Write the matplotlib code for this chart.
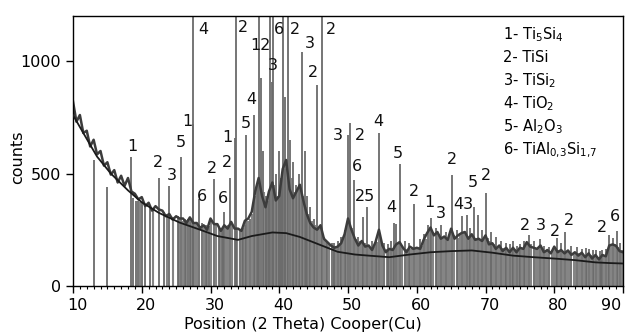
import numpy as np
import matplotlib
matplotlib.use('Agg')
import matplotlib.pyplot as plt
import matplotlib.transforms as mtransforms

scan_start, scan_end, scan_step = 10.0, 90.0, 0.5
scan_counts = [
    820, 730, 760, 680, 690, 620, 650, 585, 600, 535,
    550, 495, 515, 460, 490, 445, 480, 420, 410, 385,
    395, 355, 370, 335, 355, 340, 335, 310, 320, 295,
    310, 300, 300, 280, 305, 280, 280, 258, 270, 250,
    300, 275, 275, 245, 270, 255, 285, 255, 255, 245,
    290, 300, 330, 420, 480, 400, 350, 420, 460, 380,
    400, 520, 560, 430, 390, 420, 450, 380, 320, 280,
    260, 250, 270, 210, 195, 180, 170, 175, 190, 230,
    300, 250, 210, 180, 200, 175, 180, 160, 195, 250,
    180, 150, 165, 160, 185, 195, 170, 150, 175, 165,
    170, 165, 205, 235, 260, 225, 240, 210, 220, 205,
    255, 210, 225, 235, 240, 210, 230, 205, 210, 200,
    225, 185, 190, 165, 180, 155, 170, 150, 170, 150,
    170, 165, 195, 175, 170, 165, 180, 150, 160, 145,
    175, 150, 160, 145, 158, 138, 150, 135, 148, 128,
    145, 122, 138, 118, 138, 132, 180, 185, 178, 155,
    150]

# fitted background
bg_theta = [10, 11.5, 13.5, 15.5, 18, 20, 22.5, 25.5, 28.5, 31, 34, 36, 39, 41,
            43, 46, 48.5, 51, 53, 56, 59, 62, 65, 68, 71, 74, 77, 80, 83, 86, 88, 90]
bg_counts = [760, 680, 575, 500, 425, 372, 325, 282, 250, 222, 205, 222, 238, 235,
             218, 182, 152, 140, 135, 128, 140, 150, 155, 158, 148, 135, 128, 122,
             115, 105, 102, 100]

# peak list (position, height); 1400 = off scale
peak_pos = [13.1, 15.0, 18.4, 18.7, 19.2, 19.5, 20.0, 20.5, 21.2, 22.5, 23.2, 24.0,
            25.2, 25.7, 26.3, 26.7, 27.0, 27.4, 27.5, 28.3, 28.8, 29.3, 29.8, 30.5,
            31.2, 31.6, 32.0, 32.8, 33.5, 33.7, 34.3, 34.8, 35.2, 35.7, 36.3, 36.7,
            37.05, 37.35, 37.6, 38.0, 38.3, 38.65, 38.9, 39.1, 39.5, 40.0, 40.3,
            40.6, 40.9, 41.3, 41.6, 42.0, 42.4, 42.8, 43.3, 43.7, 44.1, 44.5, 45.0,
            45.5, 46.2, 47.0, 47.6, 48.0, 48.6, 49.0, 49.5, 50.0, 50.3, 50.9, 51.5,
            52.2, 52.8, 53.5, 54.0, 54.5, 55.3, 55.8, 56.3, 56.7, 57.0, 57.6, 58.3,
            58.8, 59.6, 60.5, 61.0, 61.6, 62.1, 62.8, 63.5, 64.3, 65.1, 65.8, 66.6,
            67.3, 67.8, 68.3, 68.9, 69.5, 70.1, 70.8, 71.5, 72.3, 73.0, 73.6, 74.0,
            74.6, 75.0, 75.6, 76.3, 77.0, 77.9, 78.5, 79.3, 80.4, 81.0, 81.6, 82.5,
            83.3, 84.0, 84.6, 85.0, 85.6, 86.0, 86.6, 87.0, 87.5, 88.0, 88.5, 89.1,
            89.6]
peak_h = [560, 440, 573, 390, 380, 380, 370, 360, 350, 480, 330, 444,
          310, 573, 300, 300, 300, 720, 1400, 387, 280, 270, 265, 475,
          260, 250, 330, 480, 657, 1400, 250, 260, 671, 300, 760, 450,
          1400, 925, 600, 400, 380, 1400, 907, 1400, 500, 600, 480,
          1400, 840, 1400, 650, 550, 450, 500, 1040, 600, 400, 350, 300,
          893, 1400, 200, 190, 190, 200, 220, 250, 671, 724, 471, 220,
          307, 351, 200, 210, 680, 190, 185, 200, 280, 276, 542, 200,
          190, 364, 210, 230, 270, 302, 260, 271, 240, 493, 250, 311,
          315, 260, 351, 315, 250, 413, 240, 220, 200, 190, 185, 200,
          180, 185, 200, 227, 200, 209, 180, 175, 213, 190, 240, 180,
          175, 165, 170, 165, 160, 160, 155, 160, 165, 227, 213, 244,
          190]

# weak reflections under the scan
weak_pos = [19.8, 21.6, 23.6, 24.6, 25.4,
            26.0, 26.5, 27.2, 27.8, 28.1, 29.0, 29.5, 30.0, 30.8, 31.4, 31.8, 32.3,
            32.6, 33.1, 33.9, 34.6, 35.0, 35.5, 36.0,
            36.5, 36.9, 37.8, 38.1, 38.5, 39.3, 39.7, 39.9, 40.1, 40.4, 40.8, 41.1,
            41.8, 42.2, 42.6, 43.0, 43.5, 43.9, 44.3, 44.7, 45.2, 45.8, 46.0, 46.5,
            46.8, 47.3, 47.9, 48.3, 48.8, 49.2, 49.7,
            50.6, 51.2, 51.8, 52.0, 52.5, 53.0, 53.2, 53.8, 54.2, 54.8, 55.0, 55.6,
            56.0, 56.5, 57.3, 57.9, 58.6, 59.0, 59.3, 59.9,
            60.2, 60.8, 61.3, 61.9, 62.4, 63.0, 63.2, 63.8, 64.0, 64.6, 64.8, 65.4,
            66.0, 66.3, 66.9, 67.0, 67.6, 68.0, 68.6, 69.2, 69.8,
            70.3, 70.6, 71.0, 71.2, 71.8, 72.0, 72.6, 72.8, 73.3, 73.8, 74.3, 74.8,
            75.3, 75.8, 76.0, 76.6, 77.3, 77.6, 78.2, 78.8, 79.0, 79.6, 79.9,
            80.2, 80.7, 81.3, 81.9, 82.2, 82.8, 83.0, 83.6, 83.8, 84.3, 84.8, 85.3,
            85.8, 86.3, 86.8, 87.3, 87.8, 88.2, 88.8, 89.3, 89.8]
weak_h = [375, 340, 320, 305, 300,
          290, 295, 285, 280, 275, 270, 265, 290, 270, 260, 260, 265,
          270, 275, 255, 250, 270, 290, 320,
          400, 450, 420, 380, 420, 450, 400, 420, 450, 500, 520, 560,
          480, 420, 430, 450, 400, 350, 320, 290, 270, 260, 265, 220,
          200, 190, 180, 180, 190, 210, 260,
          260, 210, 200, 200, 190, 180, 175, 175, 195, 200, 180, 165,
          160, 170, 190, 175, 165, 165, 170, 170,
          170, 180, 210, 250, 240, 235, 230, 220, 215, 215, 230, 225,
          215, 235, 235, 230, 220, 225, 215, 205, 210,
          215, 200, 185, 185, 175, 175, 170, 165, 160, 160, 165, 160,
          170, 180, 190, 185, 170, 175, 170, 160, 155, 160, 170,
          170, 160, 155, 155, 150, 148, 145, 145, 142, 140, 138, 138,
          132, 130, 128, 135, 150, 180, 185, 175, 160]

# phase labels (text, 2theta, counts)
lab_txt = ['1', '2', '3', '5', '1', '6', '4', '2', '6', '2', '1', '5', '4', '2',
           '12', '3', '6', '2', '3', '2', '2', '3', '2', '6', '25', '4', '4', '5',
           '2', '1', '3', '2', '43', '5', '2', '2', '3', '2', '2', '2', '6']
lab_x = [18.6, 22.4, 24.4, 25.7, 26.6, 28.8, 29.0, 30.2, 31.8, 32.4, 32.4, 35.2,
         35.9, 34.7, 37.2, 39.1, 40.0, 42.3, 44.5, 44.9, 47.5, 48.5, 51.7, 51.3,
         52.5, 54.4, 56.3, 57.3, 59.6, 61.8, 63.5, 65.1, 66.7, 68.2, 70.1, 75.7,
         78.1, 80.1, 82.1, 86.9, 88.8]
lab_y = [618, 547, 493, 636, 729, 396, 1138, 524, 391, 547, 662, 724,
         827, 1147, 1071, 982, 1138, 1138, 1080, 951, 1138, 671, 671, 529,
         396, 729, 347, 591, 418, 373, 324, 560, 364, 458, 493, 271,
         267, 244, 293, 262, 307]

phases = ['1- Ti$_5$Si$_4$', '2- TiSi', '3- TiSi$_2$', '4- TiO$_2$',
          '5- Al$_2$O$_3$', '6- TiAl$_{0{,}3}$Si$_{1{,}7}$']

two_theta = np.arange(scan_start, scan_end + scan_step / 2, scan_step)

fig = plt.figure(figsize=(6.25, 3.36), dpi=100)
ax = fig.add_axes([73 / 625, 1 - 286 / 336, 550 / 625, 270 / 336])

ax.vlines(weak_pos, 0, weak_h, colors='#858585', lw=1.5, zorder=1)
ax.vlines(peak_pos, 0, peak_h, colors='#6a6a6a', lw=1.3, zorder=1)
ax.plot(two_theta, scan_counts, color='#3c3c3c', lw=1.8, zorder=2)
ax.plot(bg_theta, bg_counts, color='#1a1a1a', lw=1.3, zorder=3)

for t, x, y in zip(lab_txt, lab_x, lab_y):
    ax.text(x, y, t, fontsize=11.5, ha='center', va='center', color='#111111')

for k, s in enumerate(phases):
    fig.text(503 / 625, 1 - (35 + 23 * k) / 336, s, fontsize=10.5,
             ha='left', va='center')

ax.set_xlim(10, 90)
ax.set_ylim(0, 1200)
ax.set_xticks([10, 20, 30, 40, 50, 60, 70, 80, 90])
ax.set_xticks(np.arange(10, 91, 1), minor=True)
ax.set_yticks([0, 500, 1000])
ax.tick_params(axis='both', direction='out', labelsize=11.5, length=5, width=1)
ax.tick_params(axis='x', which='minor', length=2.5, width=0.8)
for sp in ax.spines.values():
    sp.set_linewidth(1)

# x tick labels sit a little right of their ticks; the last one is pulled in
shift = mtransforms.ScaledTranslation(4 / 100, 0, fig.dpi_scale_trans)
back = mtransforms.ScaledTranslation(-2 / 100, 0, fig.dpi_scale_trans)
xlabels = ax.get_xticklabels()
for lbl in xlabels[:-1]:
    lbl.set_transform(lbl.get_transform() + shift)
xlabels[-1].set_transform(xlabels[-1].get_transform() + back)
xlabels[-1].set_horizontalalignment('right')

fig.text(303 / 625, 1 - 325 / 336, 'Position (2 Theta) Cooper(Cu)', fontsize=11.5,
         ha='center', va='center')
fig.text(18 / 625, 1 - 157 / 336, 'counts', fontsize=11.5, rotation=90,
         ha='center', va='center')

fig.savefig('out.png', dpi=100)
